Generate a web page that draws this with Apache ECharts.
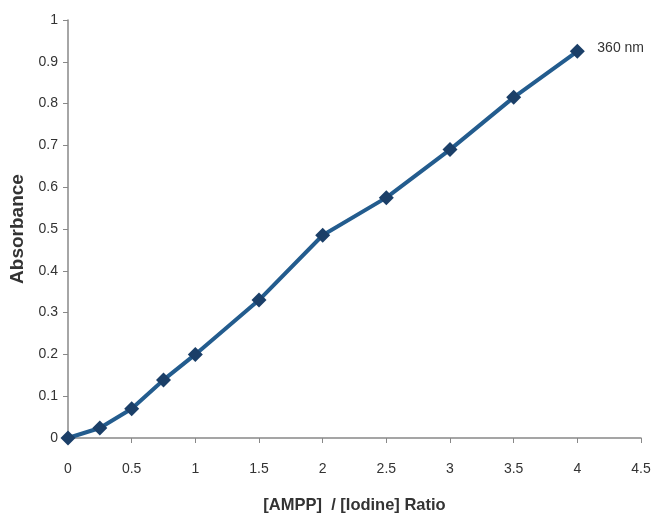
<!DOCTYPE html>
<html><head><meta charset="utf-8">
<script src="https://cdn.jsdelivr.net/npm/echarts@6/dist/echarts.min.js"></script>
<style>html,body{margin:0;padding:0;background:#fff}#c{width:654px;height:520px}</style>
</head><body><div id="c"></div>
<script>
const ratios = [0, 0.25, 0.5, 0.75, 1, 1.5, 2, 2.5, 3, 3.5, 4];
const absorbance = [0, 0.024, 0.07, 0.139, 0.2, 0.33, 0.485, 0.575, 0.69, 0.815, 0.925];
const seriesName = '360 nm';
const xTitle = '[AMPP]  / [Iodine] Ratio';
const yTitle = 'Absorbance';

const chart = echarts.init(document.getElementById('c'));
const font = '"Liberation Sans", Arial, sans-serif';
chart.setOption({
  animation: false,
  grid: {left: 68, right: 13, top: 20, bottom: 82},
  xAxis: {
    type: 'value', min: 0, max: 4.5, interval: 0.5,
    axisLine: {show: true, lineStyle: {color: '#888', width: 1.5}},
    axisTick: {show: true, length: 5, lineStyle: {color: '#888'}},
    splitLine: {show: false},
    axisLabel: {color: '#333', fontSize: 14, fontFamily: font, margin: 24},
    name: xTitle, nameLocation: 'middle', nameGap: 59,
    nameTextStyle: {color: '#333', fontSize: 16.5, fontWeight: 'bold', fontFamily: font}
  },
  yAxis: {
    type: 'value', min: 0, max: 1, interval: 0.1,
    axisLine: {show: true, lineStyle: {color: '#888', width: 1.5}},
    axisTick: {show: true, length: 5, lineStyle: {color: '#888'}},
    splitLine: {show: false},
    axisLabel: {color: '#333', fontSize: 14, fontFamily: font, margin: 10},
    name: yTitle, nameLocation: 'middle', nameGap: 35,
    nameTextStyle: {color: '#333', fontSize: 19, fontWeight: 'bold', fontFamily: font}
  },
  series: [{
    name: seriesName, type: 'line',
    data: ratios.map((x, i) => [x, absorbance[i]]),
    symbol: 'diamond', symbolSize: 15,
    lineStyle: {color: '#235c8e', width: 4},
    itemStyle: {color: '#1b3f68'},
    endLabel: {show: true, formatter: seriesName, color: '#333', fontSize: 14, fontFamily: font, offset: [12, -3]}
  }]
});
</script></body></html>
